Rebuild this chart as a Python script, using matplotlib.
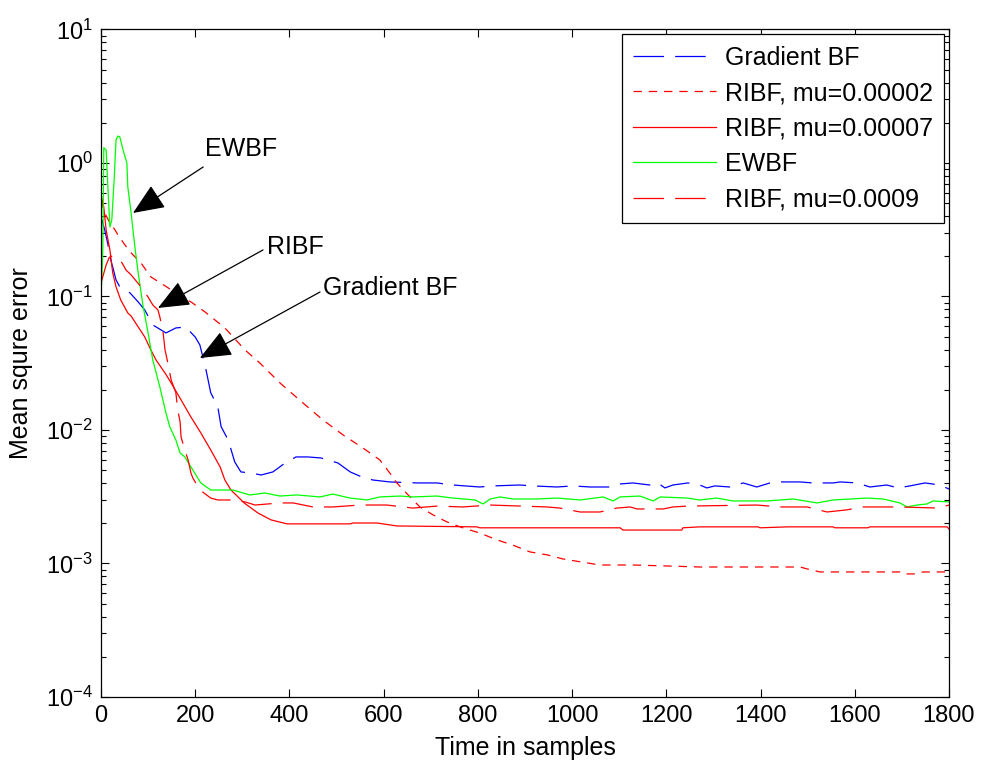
import matplotlib.pyplot as plt
import numpy as np
from matplotlib.ticker import LogLocator, NullFormatter

plt.rcParams['font.family'] = 'Liberation Sans'
plt.rcParams['mathtext.fontset'] = 'custom'
plt.rcParams['mathtext.rm'] = 'Liberation Sans'
plt.rcParams['mathtext.default'] = 'regular'
plt.rcParams['axes.unicode_minus'] = False
plt.rcParams['lines.scale_dashes'] = False

# Gradient BF
grad_x = [0, 8, 15, 19, 25, 32, 40, 62, 79, 93, 110, 138, 159, 180, 200, 210, 223, 233, 248, 255,
          270, 284, 297, 318, 340, 365, 391, 414, 439, 467, 503, 529, 554, 577, 613, 671, 713, 747,
          804, 832, 889, 917, 968, 1002, 1038, 1066, 1080, 1102, 1129, 1165, 1182, 1197, 1214, 1246,
          1271, 1286, 1303, 1335, 1363, 1392, 1420, 1435, 1484, 1511, 1554, 1569, 1605, 1632, 1668,
          1692, 1717, 1749, 1781, 1800]
grad_y = [0.394, 0.315, 0.243, 0.198, 0.166, 0.133, 0.118, 0.106, 0.0910, 0.0792, 0.0612, 0.0533,
          0.0581, 0.0590, 0.0497, 0.0433, 0.0282, 0.0190, 0.0149, 0.0106, 0.00841, 0.00576, 0.00485,
          0.00476, 0.00460, 0.00485, 0.00566, 0.00628, 0.00628, 0.00617, 0.00566, 0.00485, 0.00444,
          0.00422, 0.00408, 0.00401, 0.00401, 0.00387, 0.00374, 0.00381, 0.00387, 0.00381, 0.00374,
          0.00381, 0.00374, 0.00374, 0.00374, 0.00394, 0.00401, 0.00387, 0.00401, 0.00368, 0.00387,
          0.00401, 0.00387, 0.00368, 0.00381, 0.00374, 0.00401, 0.00374, 0.00401, 0.00408, 0.00408,
          0.00401, 0.00401, 0.00408, 0.00401, 0.00374, 0.00387, 0.00368, 0.00381, 0.00401, 0.00387,
          0.00361]

# RIBF, mu=0.00002
r2_x = [0, 8, 19, 30, 36, 51, 64, 85, 106, 127, 149, 170, 191, 221, 263, 306, 337, 380, 429, 471,
        514, 556, 592, 613, 628, 656, 677, 705, 734, 768, 804, 841, 875, 911, 947, 981, 1059, 1129,
        1201, 1271, 1414, 1484, 1499, 1526, 1696, 1702, 1732, 1745, 1800]
r2_y = [0.528, 0.422, 0.355, 0.315, 0.289, 0.243, 0.212, 0.178, 0.140, 0.126, 0.112, 0.0991, 0.0910,
        0.0765, 0.0581, 0.0397, 0.0318, 0.0225, 0.0159, 0.0119, 0.00917, 0.00733, 0.00596, 0.00476,
        0.00401, 0.00315, 0.00265, 0.00231, 0.00205, 0.00185, 0.00169, 0.00150, 0.00137, 0.00122,
        0.00116, 0.00108, 0.000974, 0.000974, 0.000958, 0.000941, 0.000941, 0.000941, 0.000910,
        0.000864, 0.000864, 0.000835, 0.000835, 0.000864, 0.000864]

# RIBF, mu=0.00007
r7_x = [0, 6, 11, 19, 25, 32, 42, 57, 64, 79, 93, 106, 117, 136, 149, 170, 191, 212, 233, 253, 263,
        276, 304, 333, 361, 395, 529, 535, 586, 628, 798, 804, 1102, 1108, 1233, 1235, 1271, 1395,
        1399, 1458, 1554, 1558, 1628, 1632, 1796, 1800]
r7_y = [0.576, 0.468, 0.315, 0.223, 0.150, 0.118, 0.0941, 0.0752, 0.0714, 0.0591, 0.0497, 0.0397,
        0.0334, 0.0267, 0.0225, 0.0168, 0.0125, 0.00950, 0.00708, 0.00528, 0.00422, 0.00355,
        0.00284, 0.00239, 0.00212, 0.00198, 0.00198, 0.00201, 0.00201, 0.00191, 0.00188, 0.00185,
        0.00185, 0.00178, 0.00178, 0.00185, 0.00188, 0.00188, 0.00185, 0.00188, 0.00188, 0.00185,
        0.00185, 0.00188, 0.00188, 0.00181]

# EWBF
ew_x = [0, 4, 6, 11, 15, 19, 23, 28, 32, 36, 40, 47, 55, 57, 64, 72, 79, 89, 100, 110, 125, 138, 146,
        159, 168, 178, 195, 212, 233, 280, 316, 348, 380, 416, 465, 492, 529, 565, 592, 635, 662,
        713, 747, 794, 811, 826, 847, 875, 925, 968, 1017, 1066, 1087, 1102, 1144, 1172, 1187, 1244,
        1271, 1307, 1341, 1414, 1469, 1520, 1554, 1626, 1660, 1696, 1711, 1732, 1753, 1766, 1800]
ew_y = [0.094, 0.223, 1.30, 1.25, 0.628, 0.331, 0.374, 0.746, 1.49, 1.59, 1.57, 1.25, 1.0, 0.661,
        0.422, 0.235, 0.150, 0.0864, 0.0533, 0.0334, 0.0210, 0.0134, 0.0106, 0.00841, 0.00672,
        0.00628, 0.00501, 0.00401, 0.00355, 0.00355, 0.00326, 0.00337, 0.00320, 0.00326, 0.00315,
        0.00331, 0.00309, 0.00299, 0.00315, 0.00320, 0.00315, 0.00320, 0.00309, 0.00299, 0.00279,
        0.00304, 0.00315, 0.00304, 0.00304, 0.00309, 0.00299, 0.00315, 0.00294, 0.00315, 0.00320,
        0.00294, 0.00315, 0.00309, 0.00299, 0.00309, 0.00294, 0.00294, 0.00304, 0.00284, 0.00299,
        0.00309, 0.00304, 0.00284, 0.00265, 0.00274, 0.00279, 0.00294, 0.00289]

# RIBF, mu=0.0009
r9_x = [0, 11, 17, 21, 25, 36, 45, 53, 64, 85, 100, 110, 121, 125, 132, 136, 142, 149, 159, 163, 168,
        170, 178, 185, 191, 195, 210, 233, 248, 276, 306, 327, 380, 408, 450, 492, 550, 607, 662, 713,
        768, 826, 947, 974, 1017, 1059, 1095, 1123, 1138, 1193, 1214, 1244, 1392, 1441, 1499, 1541,
        1583, 1617, 1696, 1777, 1800]
r9_y = [0.126, 0.172, 0.194, 0.201, 0.198, 0.194, 0.178, 0.158, 0.145, 0.118, 0.0991, 0.0864, 0.0792,
        0.0702, 0.0533, 0.0397, 0.0318, 0.0237, 0.0190, 0.0141, 0.0115, 0.00886, 0.00708, 0.00596,
        0.00476, 0.00437, 0.00355, 0.00309, 0.00299, 0.00299, 0.00289, 0.00274, 0.00284, 0.00284,
        0.00265, 0.00265, 0.00274, 0.00274, 0.00260, 0.00269, 0.00265, 0.00274, 0.00265, 0.00260,
        0.00243, 0.00243, 0.00260, 0.00265, 0.00256, 0.00256, 0.00265, 0.00269, 0.00274, 0.00265,
        0.00265, 0.00243, 0.00252, 0.00265, 0.00265, 0.00260, 0.00274]

fig = plt.figure(figsize=(9.83, 7.67), dpi=100)
ax = fig.add_axes([0.1027, 0.0913, 0.8627, 0.8703])

lw = 0.9
ax.semilogy(grad_x, grad_y, color='b', lw=lw, dashes=(22, 8), label='Gradient BF')
ax.semilogy(r2_x, r2_y, color='r', lw=lw, dashes=(6, 5), label='RIBF, mu=0.00002')
ax.semilogy(r7_x, r7_y, color='r', lw=lw, label='RIBF, mu=0.00007')
ax.semilogy(ew_x, ew_y, color=(0, 1, 0), lw=lw, label='EWBF')
ax.semilogy(r9_x, r9_y, color='r', lw=lw, dashes=(22, 8), label='RIBF, mu=0.0009')

ax.set_xlim(0, 1800)
ax.set_ylim(1e-4, 10)
ax.set_xticks(np.arange(0, 1801, 200))
ax.yaxis.set_major_locator(LogLocator(base=10, numticks=10))
ax.yaxis.set_minor_locator(LogLocator(base=10, subs=np.arange(2, 10), numticks=20))
ax.yaxis.set_minor_formatter(NullFormatter())
ax.tick_params(which='both', direction='in', top=True, right=True, labelsize=17, pad=6)
ax.tick_params(which='major', length=6, width=0.8)
ax.tick_params(which='minor', length=3.5, width=0.8)
for s in ax.spines.values():
    s.set_linewidth(0.9)

ax.set_xlabel('Time in samples', fontsize=18, labelpad=6)
ax.set_ylabel('Mean squre error', fontsize=18, labelpad=9)

leg = ax.legend(loc='upper right', bbox_to_anchor=(1, 1), borderaxespad=0.2, fontsize=18,
                handlelength=3.3, handletextpad=0.36, labelspacing=0.46, borderpad=0.45,
                fancybox=False, framealpha=1, edgecolor='k')
leg.get_frame().set_linewidth(0.9)

# arrows with labels
arr = dict(arrowstyle='-|>,head_length=0.9,head_width=0.38', color='k', lw=0.9,
           mutation_scale=22, shrinkA=0, shrinkB=0)
ax.text(221, 1.27, 'EWBF', fontsize=18, ha='left', va='center')
ax.annotate('', xy=(68, 0.422), xytext=(217, 0.933), arrowprops=arr)
ax.text(352, 0.235, 'RIBF', fontsize=18, ha='left', va='center')
ax.annotate('', xy=(121, 0.082), xytext=(344, 0.223), arrowprops=arr)
ax.text(471, 0.116, 'Gradient BF', fontsize=18, ha='left', va='center')
ax.annotate('', xy=(210, 0.0346), xytext=(465, 0.108), arrowprops=arr)

fig.savefig('out.png', dpi=100)
